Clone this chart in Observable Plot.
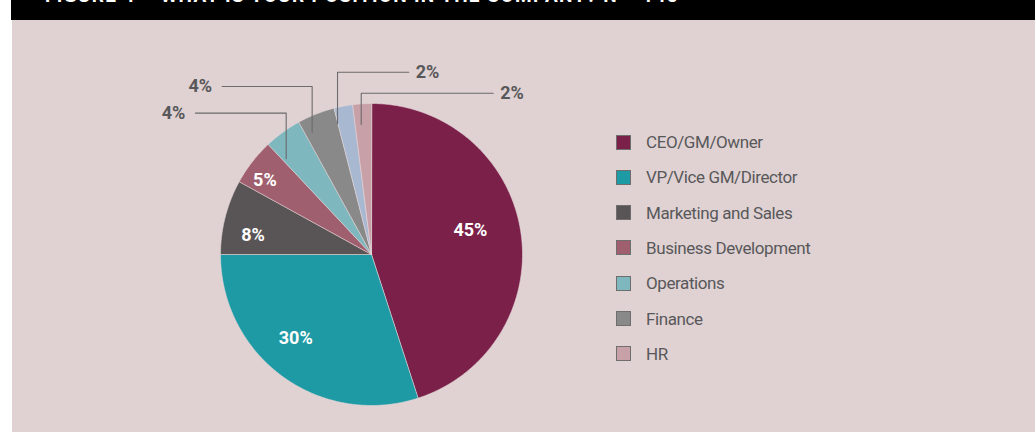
<!DOCTYPE html>
<html>
<head>
<meta charset="utf-8">
<script src="https://cdn.jsdelivr.net/npm/d3@7"></script>
<script src="https://cdn.jsdelivr.net/npm/@observablehq/plot@0.6"></script>
<style>
  html, body { margin: 0; padding: 0; background: #ffffff; }
  #page { position: relative; width: 1035px; height: 432px; overflow: hidden; background: #ffffff; }
  #header { position: absolute; left: 11px; top: 0; width: 1024px; height: 20px; background: #000; overflow: hidden; }
  #header span { position: absolute; left: 34px; top: -14px; line-height: 20px; white-space: nowrap;
    font-family: Roboto, sans-serif; font-weight: bold; font-size: 19px; color: #fff; letter-spacing: 1.3px; }
  #panel { position: absolute; left: 12px; top: 20px; width: 1023px; height: 412px; background: #e0d2d3; }
  #chart { position: absolute; left: 0; top: 0; }
  #legend { position: absolute; left: 0; top: 0; width: 1023px; height: 412px; pointer-events: none; }
  .item { position: absolute; left: 604px; height: 20px; display: flex; align-items: center;
    font-family: Roboto, sans-serif; font-size: 17px; letter-spacing: -0.4px; color: #58585a; }
  .sw { width: 15px; height: 15px; box-sizing: border-box; border: 1.3px solid #6e6e6e; margin-right: 15px; }
</style>
</head>
<body>
<div id="page">
  <div id="header"><span id="title"></span></div>
  <div id="panel">
    <div id="chart"></div>
    <div id="legend"></div>
  </div>
</div>
<script>
// ---- data ----
const title = "FIGURE 4 – WHAT IS YOUR POSITION IN THE COMPANY? N = 145";
const categories = ["CEO/GM/Owner", "VP/Vice GM/Director", "Marketing and Sales", "Business Development", "Operations", "Finance", "Unlabelled", "HR"];
const shares = [45, 30, 8, 5, 4, 4, 2, 2];
const colors = ["#7b2049", "#1e9aa4", "#595556", "#a05f6e", "#7fb7be", "#898989", "#a9b8d1", "#c8a0a8"];
const legendCategories = ["CEO/GM/Owner", "VP/Vice GM/Director", "Marketing and Sales", "Business Development", "Operations", "Finance", "HR"];

// ---- layout (unit-circle coordinates, radius = 1) ----
const insideLabels = { // radius fraction, angle offset (deg)
  "CEO/GM/Owner": [0.675, -5],
  "VP/Vice GM/Director": [0.75, 6],
  "Marketing and Sales": [0.795, -5],
  "Business Development": [0.86, -3]
};
const callouts = { // anchor x, anchor y, elbow y, end x, side
  "Operations": [-0.565, 0.634, 0.936, -1.166, "left"],
  "Finance": [-0.393, 0.81, 1.113, -0.989, "left"],
  "Unlabelled": [-0.225, 0.866, 1.207, 0.247, "right"],
  "HR": [-0.068, 0.861, 1.068, 0.806, "right"]
};

document.getElementById("title").textContent = title;

const rows = categories.map((c, i) => ({name: c, value: shares[i], label: shares[i] + "%"}));
const arcs = d3.pie().sort(null).value(d => d.value).startAngle(0).endAngle(2 * Math.PI)(rows);

// slice polygons
const poly = [];
for (const a of arcs) {
  poly.push({name: a.data.name, x: 0, y: 0});
  const n = Math.max(2, Math.ceil((a.endAngle - a.startAngle) / (Math.PI / 360)));
  for (let k = 0; k <= n; k++) {
    const t = a.startAngle + (a.endAngle - a.startAngle) * k / n;
    poly.push({name: a.data.name, x: Math.sin(t), y: Math.cos(t)});
  }
}

const inner = arcs.filter(a => insideLabels[a.data.name]).map(a => {
  const [r, off] = insideLabels[a.data.name];
  const t = (a.startAngle + a.endAngle) / 2 + off * Math.PI / 180;
  return {x: r * Math.sin(t), y: r * Math.cos(t), label: a.data.label};
});

const leaders = [];
const outer = [];
for (const a of arcs) {
  const c = callouts[a.data.name];
  if (!c) continue;
  const [ax, ay, ey, ex, side] = c;
  leaders.push({name: a.data.name, x: ax, y: ay}, {name: a.data.name, x: ax, y: ey}, {name: a.data.name, x: ex, y: ey});
  outer.push({x: ex, y: ey, label: a.data.label, side});
}

const W = 1023, H = 412, CX = 359, CY = 234, R = 151;
const font = "Roboto, sans-serif";

const chart = Plot.plot({
  width: W, height: H, margin: 0,
  style: {background: "transparent", overflow: "visible"},
  x: {domain: [-1, 1], range: [CX - R, CX + R], axis: null},
  y: {domain: [-1, 1], range: [CY + R, CY - R], axis: null},
  color: {domain: categories, range: colors},
  marks: [
    Plot.line(poly, {x: "x", y: "y", z: "name", fill: "name", stroke: "#e6d9da", strokeWidth: 0.6, curve: "linear-closed"}),
    Plot.line(leaders, {x: "x", y: "y", z: "name", stroke: "#6b6b6b", strokeWidth: 1.1}),
    Plot.text(inner, {x: "x", y: "y", text: "label", fill: "#ffffff", fontSize: 18, fontWeight: "bold", fontFamily: font}),
    Plot.text(outer.filter(d => d.side === "left"), {x: "x", y: "y", text: "label", textAnchor: "end", dx: -10, fill: "#58585a", fontSize: 18, fontWeight: "bold", fontFamily: font}),
    Plot.text(outer.filter(d => d.side === "right"), {x: "x", y: "y", text: "label", textAnchor: "start", dx: 7, fill: "#58585a", fontSize: 18, fontWeight: "bold", fontFamily: font})
  ]
});
document.getElementById("chart").appendChild(chart);

// legend from the chart's color scale
const color = chart.scale("color");
const legend = document.getElementById("legend");
legendCategories.forEach((c, i) => {
  const item = document.createElement("div");
  item.className = "item";
  item.style.top = (112 + i * 35.3) + "px";
  const sw = document.createElement("div");
  sw.className = "sw";
  sw.style.background = color.range[color.domain.indexOf(c)];
  const tx = document.createElement("span");
  tx.textContent = c;
  item.appendChild(sw); item.appendChild(tx);
  legend.appendChild(item);
});
</script>
</body>
</html>
